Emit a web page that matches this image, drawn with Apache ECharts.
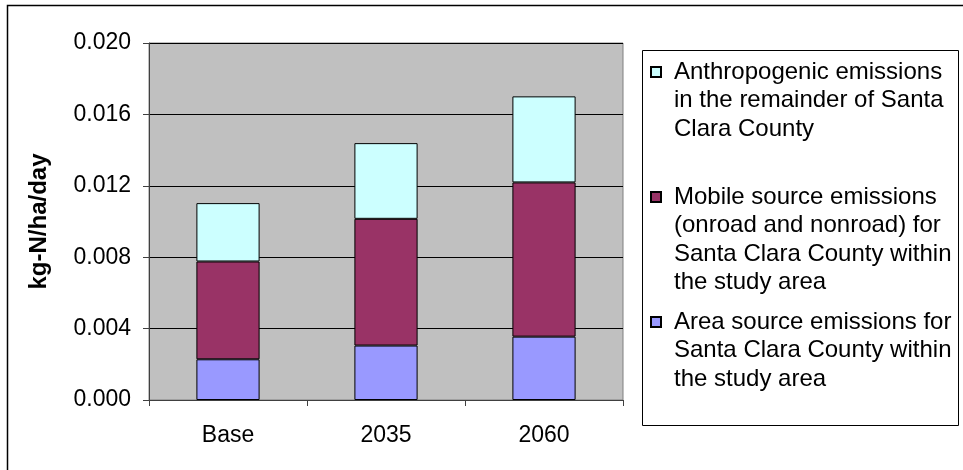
<!DOCTYPE html>
<html>
<head>
<meta charset="utf-8">
<script src="https://cdn.jsdelivr.net/npm/echarts@6/dist/echarts.min.js"></script>
<style>
html, body { margin: 0; padding: 0; background: #fff; }
#main { width: 963px; height: 470px; }
</style>
</head>
<body>
<div id="main"></div>
<script>
// data (kg-N/ha/day)
var categories = ["Base", "2035", "2060"];
var areaSource = [0.00228, 0.00305, 0.00355];
var mobileSource = [0.00548, 0.0071, 0.00864];
var anthropogenic = [0.00327, 0.00424, 0.00482];
var yTicks = [0, 0.004, 0.008, 0.012, 0.016, 0.02];

var anthroLines = ["Anthropogenic emissions", "in the remainder of Santa", "Clara County"];
var mobileLines = ["Mobile source emissions", "(onroad and nonroad) for", "Santa Clara County within", "the study area"];
var areaLines = ["Area source emissions for", "Santa Clara County within", "the study area"];

var FONT = "Liberation Sans, Arial, sans-serif";
var wrapped = {};
[anthroLines, mobileLines, areaLines].forEach(function (l) {
  wrapped[l.join(" ")] = l;
});

function makeLegend(lines, top) {
  return {
    left: 650,
    top: top,
    padding: 0,
    orient: "vertical",
    icon: "rect",
    itemWidth: 10,
    itemHeight: 10,
    selectedMode: false,
    data: [lines.join(" ")],
    textStyle: {
      fontFamily: FONT,
      fontSize: 24,
      color: "#000",
      lineHeight: 28.5,
      padding: [0, 0, 0, 8]
    },
    formatter: function (name) {
      var l = wrapped[name];
      // blank lines above so the icon sits next to the first line
      return new Array(l.length).join("\n") + l.join("\n");
    }
  };
}

var myChart = echarts.init(document.getElementById("main"));
var option = {
  animation: false,
  backgroundColor: "#fff",
  grid: {
    left: 149,
    top: 43,
    right: 340,
    bottom: 70,
    show: true,
    backgroundColor: "#C0C0C0",
    borderColor: "#808080",
    borderWidth: 1
  },
  graphic: [
    {
      type: "rect",
      shape: { x: 7.5, y: 5.5, width: 1000, height: 1000 },
      style: { fill: "none", stroke: "#000", lineWidth: 1.5 }
    },
    {
      type: "rect",
      shape: { x: 642.5, y: 50.5, width: 316, height: 375 },
      style: { fill: "#fff", stroke: "#000", lineWidth: 1 }
    }
  ],
  legend: [
    makeLegend(anthroLines, 0.75),
    makeLegend(mobileLines, 97.25),
    makeLegend(areaLines, 250.75)
  ],
  xAxis: {
    type: "category",
    data: categories,
    axisLine: { lineStyle: { color: "#404040", width: 1 } },
    axisTick: { show: true, length: 6, lineStyle: { color: "#404040" } },
    axisLabel: { fontFamily: FONT, fontSize: 23, color: "#000", margin: 24 },
    splitLine: { show: false }
  },
  yAxis: {
    type: "value",
    min: 0,
    max: yTicks[yTicks.length - 1],
    interval: yTicks[1] - yTicks[0],
    name: "kg-N/ha/day",
    nameLocation: "middle",
    nameGap: 98,
    nameTextStyle: { fontFamily: FONT, fontSize: 24, fontWeight: "bold", color: "#000" },
    axisLine: { show: true, lineStyle: { color: "#404040", width: 1 } },
    axisTick: { show: true, length: 6, lineStyle: { color: "#404040" } },
    axisLabel: {
      fontFamily: FONT,
      fontSize: 23,
      color: "#000",
      margin: 18,
      formatter: function (v) {
        return v.toFixed(3);
      }
    },
    splitLine: { show: true, lineStyle: { color: "#000", width: 1 } }
  },
  series: [
    {
      name: areaLines.join(" "),
      type: "bar",
      stack: "total",
      barWidth: "40%",
      data: areaSource,
      itemStyle: { color: "#9999FF", borderColor: "#000", borderWidth: 1 }
    },
    {
      name: mobileLines.join(" "),
      type: "bar",
      stack: "total",
      data: mobileSource,
      itemStyle: { color: "#993366", borderColor: "#000", borderWidth: 1 }
    },
    {
      name: anthroLines.join(" "),
      type: "bar",
      stack: "total",
      data: anthropogenic,
      itemStyle: { color: "#CCFFFF", borderColor: "#000", borderWidth: 1 }
    }
  ]
};
myChart.setOption(option);
</script>
</body>
</html>
